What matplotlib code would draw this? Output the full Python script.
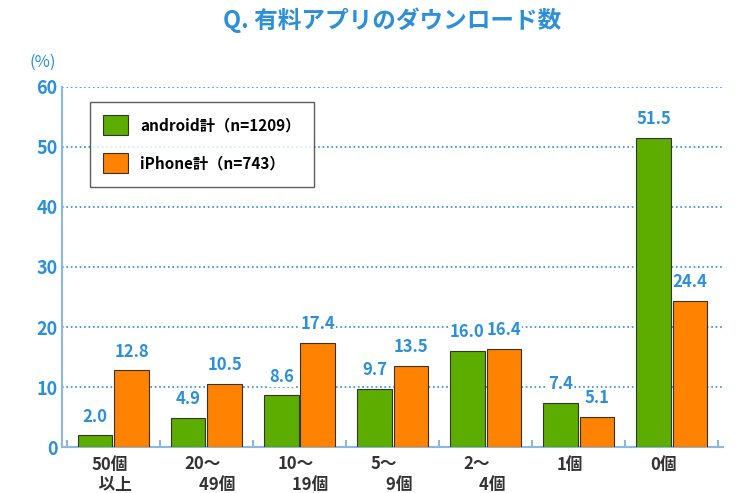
import numpy as np
import matplotlib
matplotlib.use('Agg')
import matplotlib.pyplot as plt
import matplotlib.transforms as mtrans

plt.rcParams['font.family'] = 'Noto Sans CJK JP'

categories = ['50個\n  以上', '20〜\n    49個', '10〜\n    19個', '5〜\n    9個', '2〜\n    4個', '1個', '0個']
android = [2.0, 4.9, 8.6, 9.7, 16.0, 7.4, 51.5]
iphone = [12.8, 10.5, 17.4, 13.5, 16.4, 5.1, 24.4]
series_names = ['android計（n=1209）', 'iPhone計（n=743）']

green = '#5cad00'
orange = '#ff8200'
blue = '#2b8fd9'

fig = plt.figure(figsize=(7.4, 4.93), dpi=100)
ax = fig.add_axes([0.084, 0.093, 0.893, 0.731])

x = np.arange(len(categories))
w = 0.37
b1 = ax.bar(x - w/2 - 0.01, android, w, color=green, edgecolor='#333333', linewidth=0.8, label=series_names[0], zorder=3)
b2 = ax.bar(x + w/2 + 0.01, iphone, w, color=orange, edgecolor='#333333', linewidth=0.8, label=series_names[1], zorder=3)

for bars, vals in ((b1, android), (b2, iphone)):
    for r, v in zip(bars, vals):
        ax.text(r.get_x() + r.get_width()/2, v + 1.6, f'{v:.1f}', ha='center', va='bottom',
                color=blue, fontsize=12, fontweight='bold', zorder=4,
                bbox=dict(facecolor='white', edgecolor='none', pad=0.5))

ax.set_ylim(0, 60)
ax.set_xlim(-0.55, len(categories) - 0.45)
ax.set_yticks(range(0, 61, 10))
ax.tick_params(axis='y', colors=blue, labelsize=13, length=0)
ax.tick_params(axis='x', length=0, labelsize=12, colors='#333333', pad=6)
ax.set_xticks(x)
ax.set_xticklabels(categories, ha='left', fontweight='bold')
for lbl in ax.get_xticklabels():
    lbl.set_transform(lbl.get_transform() + mtrans.ScaledTranslation(-0.22, 0, fig.dpi_scale_trans))
for yl in ax.get_yticklabels():
    yl.set_fontweight('bold')

ax.yaxis.grid(True, linestyle=':', color=blue, linewidth=1.2, zorder=0)
for s in ['top', 'right']:
    ax.spines[s].set_visible(False)
ax.spines['left'].set_color('#8ab8e0')
ax.spines['bottom'].set_color('#8ab8e0')
ax.spines['left'].set_linewidth(1.5)
ax.spines['bottom'].set_linewidth(1.5)
for xb in np.arange(-0.5, len(categories), 1.0):
    ax.plot([xb, xb], [0, 1], color='#8ab8e0', lw=1.5, zorder=2, clip_on=False)

leg = ax.legend(loc='upper left', bbox_to_anchor=(0.03, 0.98), frameon=True, fancybox=False,
                edgecolor='#333333', handlelength=1.6, handleheight=1.6,
                labelspacing=1.2, borderpad=0.9, prop={'weight': 'bold', 'size': 11})
leg.get_frame().set_linewidth(1.0)

fig.text(0.04, 0.865, '(%)', color=blue, fontsize=12)
fig.suptitle('Q. 有料アプリのダウンロード数', x=0.53, y=0.985, color=blue, fontsize=17, fontweight='bold')

fig.savefig('out.png', dpi=100)
